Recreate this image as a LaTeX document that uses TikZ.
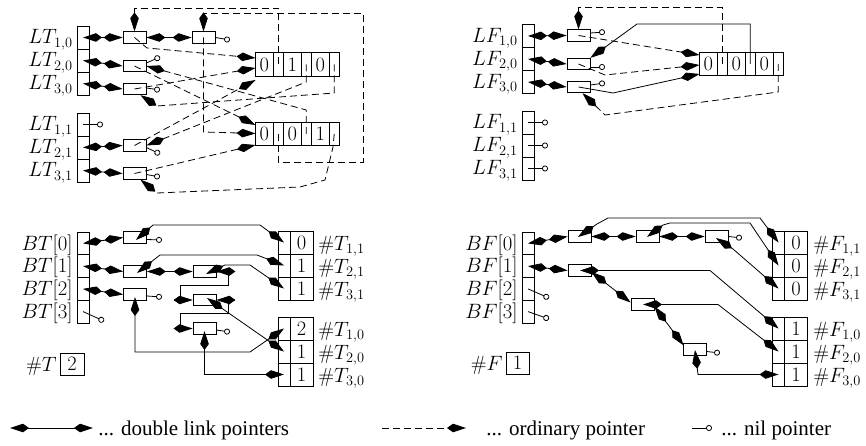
\documentclass[tikz,border=0pt]{standalone}
\usepackage{fontspec}
\newfontfamily\legendfont{Liberation Serif}
\usetikzlibrary{arrows.meta,calc}
\newcommand\clausebox[6]{%
  \node[vcell] (#1v1) at (#2+8.75,#3) {#4};
  \node[pcell] (#1p1) at (#2+22.75,#3) {};
  \node[vcell] (#1v2) at (#2+36.75,#3) {#5};
  \node[pcell] (#1p2) at (#2+50.75,#3) {};
  \node[vcell] (#1v3) at (#2+64.75,#3) {#6};
  \node[pcell] (#1p3) at (#2+78.75,#3) {};
}
\begin{document}
\begin{tikzpicture}[x=1pt,y=-1pt,line width=0.8pt,
  font=\fontsize{20.5}{24}\selectfont,
  >={Kite[length=19pt,width=8.5pt,inset=6pt]},
  ptr/.style={->},
  dptr/.style={->,dash pattern=on 7pt off 4pt},
  dlink/.style={<->},
  nilp/.style={-{Circle[open,length=6pt,width=6pt]}},
  elem/.style={draw,fill=white,minimum width=23pt,minimum height=11.5pt,inner sep=0pt},
  acell/.style={draw,minimum width=12pt,minimum height=23pt,inner sep=0pt},
  vcell/.style={draw,minimum width=17.5pt,minimum height=23.5pt,inner sep=0pt},
  pcell/.style={draw,minimum width=10.5pt,minimum height=23.5pt,inner sep=0pt},
  ccell/.style={draw,minimum width=12pt,minimum height=23pt,inner sep=0pt},
  cval/.style={draw,minimum width=23pt,minimum height=23pt,inner sep=0pt},
  lab/.style={anchor=base east,inner sep=0pt},
  rlab/.style={anchor=base west,inner sep=0pt},
  legtext/.style={anchor=base west,inner sep=0pt,font=\legendfont\fontsize{21}{24}\selectfont},
]
\useasboundingbox (0,0) rectangle (866,446);

% ================= TOP LEFT =================
\foreach \y/\n in {37.5/10,60.5/20,83.5/30,124.5/11,147.5/21,170.5/31}
  \node[acell] (LT\n) at (83,\y) {};
\node[lab] at (73,44) {$LT_{1,0}$};
\node[lab] at (73,67) {$LT_{2,0}$};
\node[lab] at (73,90) {$LT_{3,0}$};
\node[lab] at (73,131) {$LT_{1,1}$};
\node[lab] at (73,154) {$LT_{2,1}$};
\node[lab] at (73,177) {$LT_{3,1}$};

\node[elem] (b10) at (134.5,37.5) {};
\node[elem] (b11) at (203.5,37.5) {};
\node[elem] (b20) at (134.5,66) {};
\node[elem] (b30) at (134.5,89) {};
\node[elem] (b21) at (134.5,145.5) {};
\node[elem] (b31) at (134.5,173.5) {};

\clausebox{C1}{255.5}{64.5}{0}{1}{0}
\clausebox{C2}{255.5}{134}{0}{0}{1}
\coordinate (C1in1) at (255.5,58);
\coordinate (C1in2) at (255.5,68);
\coordinate (C1in3) at (255.5,80);
\coordinate (C2in1) at (255.5,125);
\coordinate (C2in2) at (255.5,133.5);
\coordinate (C2in3) at (255.5,145);

\draw[dlink] (LT10.center) -- (b10.west);
\draw[dlink] (LT20.center) -- (b20.west);
\draw[dlink] (LT30.center) -- (b30.west);
\draw[dlink] (LT21.center) -- (b21.west);
\draw[dlink] (LT31.center) -- (b31.west);
\draw[dlink] (b10.east) -- (b11.west);

\draw[nilp] (LT11.center) -- (103,124.5);
\draw[nilp] (b11.east) -- (230,40);
\draw[nilp] ($(b20.east)+(0,-3)$) -- (160,57);
\draw[nilp] ($(b30.east)+(0,-1)$) -- (160,90);
\draw[nilp] ($(b21.east)+(0,2)$) -- (160,154);
\draw[nilp] ($(b31.east)+(0,1)$) -- (160,177);

\draw[dptr] (C1p1.center) -- (C1p1.center |- 0,8) -- (b10.north |- 0,8) -- (b10.north);
\draw[dptr] (C2p1.center) -- (C2p1.center |- 0,162) -- (363,162) -- (363,13) -- (b11.north |- 0,13) -- (b11.north);
\draw[dptr] (b10.center) -- (147,48) -- (C1in1);
\draw[dptr] (b11.center) -- (b11.center |- 0,132) -- (C2in2);
\draw[dptr] (b20.center) -- (C2in1);
\draw[dptr] (C2p2.center) -- (C2p2.center |- 0,110) -- (b20.east);
\draw[dptr] (b30.center) -- (C1in2);
\draw[dptr] (C1p3.center) -- (C1p3.center |- 0,93) -- (157,106) -- ($(b30.south)+(6,0)$);
\draw[dptr] (b21.center) -- (C1in3);
\draw[dptr] (C1p2.center) -- (C1p2.center |- 0,82) -- (b21.east);
\draw[dptr] (b31.center) -- (C2in3);
\draw[dptr] (C2p3.center) -- (333,147) -- (325,180) -- (300,187) -- (157,193) -- ($(b31.south)+(6,0)$);

% ================= TOP RIGHT =================
\foreach \y/\n in {36/10,59/20,82/30,122.5/11,145.5/21,168.5/31}
  \node[acell] (LF\n) at (528,\y) {};
\node[lab] at (518,42.5) {$LF_{1,0}$};
\node[lab] at (518,65.5) {$LF_{2,0}$};
\node[lab] at (518,88.5) {$LF_{3,0}$};
\node[lab] at (518,129) {$LF_{1,1}$};
\node[lab] at (518,152) {$LF_{2,1}$};
\node[lab] at (518,175) {$LF_{3,1}$};

\node[elem] (f10) at (578.5,35.5) {};
\node[elem] (f20) at (578.5,64) {};
\node[elem] (f30) at (578.5,87) {};
\clausebox{CF}{699.5}{64}{0}{0}{0}
\coordinate (CFin1) at (699.5,55);
\coordinate (CFin2) at (699.5,65);
\coordinate (CFin3) at (699.5,74);

\draw[dlink] (LF10.center) -- (f10.west);
\draw[dlink] (LF20.center) -- (f20.west);
\draw[dlink] (LF30.center) -- (f30.west);
\draw[nilp] (LF11.center) -- (548,122.5);
\draw[nilp] (LF21.center) -- (548,145.5);
\draw[nilp] (LF31.center) -- (548,168.5);
\draw[nilp] ($(f10.east)+(0,-2.5)$) -- (605,32);
\draw[nilp] ($(f20.east)+(0,3)$) -- (605,67);
\draw[nilp] ($(f30.east)+(0,-2)$) -- (605,83);

\draw[dptr] (CFp1.center) -- (CFp1.center |- 0,7) -- (f10.north |- 0,7) -- (f10.north);
\draw[ptr] (CFp2.center) -- (CFp2.center |- 0,24) -- (637,24) -- (f20.north east);
\draw[dptr] (f10.center) -- (CFin1);
\draw[dptr] (f20.center) -- (605,75) -- (CFin2);
\draw[ptr] (f30.center) -- (613,93) -- (CFin3);
\draw[dptr] (CFp3.center) -- (CFp3.center |- 0,92) -- (605,115) -- ($(f30.south)+(4,0)$);

% ================= BOTTOM LEFT =================
\foreach \y/\n in {243.4/0,266.1/1,288.9/2,311.6/3}
  \node[acell,minimum height=22.75pt] (BT\n) at (83,\y) {};
\node[lab] at (73,250) {$BT[0]$};
\node[lab] at (73,272.6) {$BT[1]$};
\node[lab] at (73,295.4) {$BT[2]$};
\node[lab] at (73,318) {$BT[3]$};

\node[elem] (t0) at (135,237.5) {};
\node[elem] (t1) at (135,271.5) {};
\node[elem] (t2) at (135,294.5) {};
\node[elem] (t1b) at (204.5,271.5) {};
\node[elem] (t3) at (204.5,300) {};
\node[elem] (t4) at (204.5,328.5) {};

\foreach \y/\n/\v in {242.5/11/0,265.5/21/1,288.5/31/1,328.5/10/2,351.5/20/1,374.5/30/1}{
  \node[ccell] (cT\n) at (284,\y) {};
  \node[cval] (vT\n) at (301.5,\y) {\v};
}
\node[rlab] at (318,250) {$\#T_{1,1}$};
\node[rlab] at (318,273) {$\#T_{2,1}$};
\node[rlab] at (318,296) {$\#T_{3,1}$};
\node[rlab] at (318,336) {$\#T_{1,0}$};
\node[rlab] at (318,359) {$\#T_{2,0}$};
\node[rlab] at (318,382) {$\#T_{3,0}$};

\node[lab] (nTl) at (57,371) {$\#T$};
\node[draw,minimum width=24pt,minimum height=22pt,inner sep=0pt] (nT) at (72,364) {2};

\draw[dlink] (BT0.center) -- (t0.west);
\draw[dlink] (BT1.center) -- (t1.west);
\draw[dlink] (BT2.center) -- (t2.west);
\draw[nilp] (BT3.center) -- (104,321);
\draw[nilp] ($(t0.east)+(0,2)$) -- (162,240);
\draw[nilp] ($(t2.east)+(0,1.5)$) -- (162,297);
\draw[nilp] ($(t4.east)+(0,1.5)$) -- (230,332);
\draw[dlink] (t1.east) -- (t1b.west);
\draw[dlink] (t1b.east) -| (228,285) -| (180,300) -- (t3.west);
\draw[dlink] (t3.east) -| (228,313) -| (180,328.5) -- (t4.west);

\draw[dlink] (136,240) -- (153,225) -- (260,225) -- (cT11.center);
\draw[dlink] (137,273) -- (160,255) -- (257,255) -- (cT21.center);
\draw[dlink] (206,274) -- (225,265) -- (250,265) -- (cT31.center);
\draw[dlink] (207,298) -- (cT20.center);
\draw[dlink] (135,297) -- (135,352) -- (250,352) -- (cT10.center);
\draw[dlink] (204.5,331) -- (204.5,374.5) -- (cT30.center);

% ================= BOTTOM RIGHT =================
\foreach \y/\n in {243.4/0,266.1/1,288.9/2,311.6/3}
  \node[acell,minimum height=22.75pt] (BF\n) at (528,\y) {};
\node[lab] at (518,250) {$BF[0]$};
\node[lab] at (518,272.6) {$BF[1]$};
\node[lab] at (518,295.4) {$BF[2]$};
\node[lab] at (518,318) {$BF[3]$};

\node[elem] (g0) at (579.5,236.5) {};
\node[elem] (g0b) at (647.5,236.5) {};
\node[elem] (g0c) at (716.5,236.5) {};
\node[elem] (g1) at (579.5,270.5) {};
\node[elem] (g2) at (642.5,304.5) {};
\node[elem] (g3) at (694.5,349.5) {};

\foreach \y/\n/\v in {242.5/11/0,265.5/21/0,288.5/31/0,328.5/10/1,351.5/20/1,374.5/30/1}{
  \node[ccell] (cF\n) at (778.5,\y) {};
  \node[cval] (vF\n) at (796,\y) {\v};
}
\node[rlab] at (813,250) {$\#F_{1,1}$};
\node[rlab] at (813,273) {$\#F_{2,1}$};
\node[rlab] at (813,296) {$\#F_{3,1}$};
\node[rlab] at (813,336) {$\#F_{1,0}$};
\node[rlab] at (813,359) {$\#F_{2,0}$};
\node[rlab] at (813,382) {$\#F_{3,0}$};

\node[lab] (nFl) at (503,370) {$\#F$};
\node[draw,minimum width=23pt,minimum height=22pt,inner sep=0pt] (nF) at (517.5,363) {1};

\draw[dlink] (BF0.center) -- (g0.west);
\draw[dlink] (BF1.center) -- (g1.west);
\draw[nilp] (BF2.center) -- (549,298);
\draw[nilp] (BF3.center) -- (549,319);
\draw[dlink] (g0.east) -- (g0b.west);
\draw[dlink] (g0b.east) -- (g0c.west);
\draw[nilp] (g0c.east) -- (742,238);
\draw[dlink] ($(g1.east)+(0,1.5)$) -- ($(g2.west)+(0,-2)$);
\draw[dlink] ($(g2.east)+(0,2)$) -- ($(g3.north west)+(1,2)$);
\draw[nilp] ($(g3.east)+(0,2)$) -- (720,353);

\draw[dlink] (578,237) -- (597,224) -- (608,218) -- (760,218) -- (cF11.center);
\draw[dlink] (647,237) -- (663,225) -- (670,223) -- (750,223) -- (cF21.center);
\draw[dlink] (716,238) -- (733,249) -- (cF31.center);
\draw[dlink] (580,270.5) -- (600,270.5) -- (710,270.5) -- (cF10.center);
\draw[dlink] (643,304.5) -- (662,304.5) -- (718,304.5) -- (cF20.center);
\draw[dlink] (695,350) -- (698,374.5) -- (cF30.center);

% ================= LEGEND =================
\coordinate (la) at (10,428);
\coordinate (lb) at (93,428);
\draw[dlink] (la) -- (lb);
\node[legtext] at (98,435) {... double link pointers};
\coordinate (lc) at (382,428);
\coordinate (ld) at (466,428);
\draw[dptr] (lc) -- (ld);
\node[legtext] at (486,435) {... ordinary pointer};
\coordinate (le) at (692,428);
\coordinate (lf) at (712,428);
\draw[nilp] (le) -- (lf);
\node[legtext] at (721,435) {... nil pointer};
\end{tikzpicture}
\end{document}
